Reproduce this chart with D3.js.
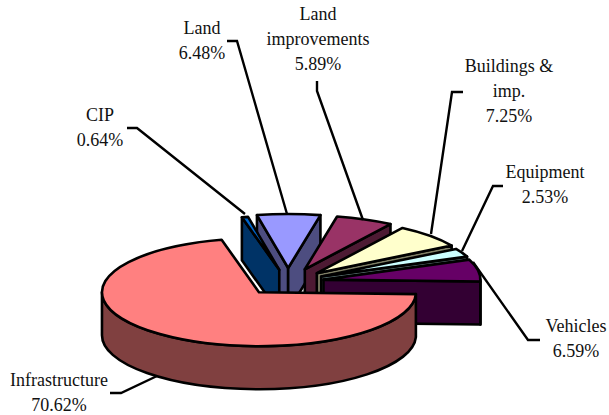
<!DOCTYPE html>
<html>
<head>
<meta charset="utf-8">
<script src="https://cdn.jsdelivr.net/npm/d3@7"></script>
<style>
html, body { margin: 0; padding: 0; background: #fff; }
svg { display: block; }
text { font-family: "Liberation Serif", serif; font-size: 18px; fill: #111; text-anchor: middle; }
</style>
</head>
<body>
<script>
var w = 609;
var h = 415;

// data, clockwise from the right hand edge of the pie
var categories = ["Infrastructure", "CIP", "Land", "Land improvements", "Buildings & imp.", "Equipment", "Vehicles"];
var values = [70.62, 0.64, 6.48, 5.89, 7.25, 2.53, 6.59];

// label wrapping
var labelLines = [["Infrastructure"], ["CIP"], ["Land"], ["Land", "improvements"], ["Buildings &", "imp."], ["Equipment"], ["Vehicles"]];

// styles
var topColors = ["#FF8080", "#0066CC", "#9999FF", "#993366", "#FFFFCC", "#CCFFFF", "#660066"];
var wallColors = ["#804040", "#003366", "#4D4D80", "#4D1A33", "#808066", "#668080", "#330033"];
var explode = [46, 40, 45, 44, 40, 37, 36];

// label layout: centre x, first baseline, then the leader line
var labelX = [59, 100, 202, 318, 509, 545, 576];
var labelY = [386, 121, 34, 20, 72, 178, 332];
var leaders = [
    [[110, 393], [121, 393], [157, 376]],
    [[127, 128], [137, 128], [245, 214]],
    [[227, 41], [237, 41], [287, 214]],
    [[317, 81], [317, 91], [363, 220]],
    [[463, 92], [452, 92], [431, 234]],
    [[503, 186], [493, 186], [462, 251]],
    [[540, 340], [528, 340], [473, 262]]
];

// projection of the tilted pie
var cx = 288;
var cy = 281.5;
var rx = 157;
var ry = 54;
var depth = 43;
var explodeTilt = 0.3;
var lineGap = 25;

var svg = d3.select("body")
    .append("svg")
    .attr("width", w)
    .attr("height", h);

var startAngle = 92 * Math.PI / 180;
var pie = d3.pie()
    .sort(null)
    .startAngle(startAngle)
    .endAngle(startAngle + 2 * Math.PI);

var slices = pie(values).map(function(d) {
    var mid = (d.startAngle + d.endAngle) / 2;
    var e = explode[d.index];
    d.ax = cx + e * Math.sin(mid);
    d.ay = cy - e * Math.cos(mid) * explodeTilt;
    return d;
});

function rim(d, a) {
    return [d.ax + rx * Math.sin(a), d.ay - ry * Math.cos(a)];
}

function arcTo(p, large) {
    return "A" + rx + "," + ry + " 0 " + (large ? 1 : 0) + " 1 " + p[0] + "," + p[1];
}

function topPath(d) {
    var p0 = rim(d, d.startAngle);
    var p1 = rim(d, d.endAngle);
    return "M" + d.ax + "," + d.ay + "L" + p0[0] + "," + p0[1] +
        arcTo(p1, d.endAngle - d.startAngle > Math.PI) + "Z";
}

function radialWall(d, a) {
    var p = rim(d, a);
    return "M" + d.ax + "," + d.ay + "L" + p[0] + "," + p[1] +
        "L" + p[0] + "," + (p[1] + depth) + "L" + d.ax + "," + (d.ay + depth) + "Z";
}

// the outer wall only shows on the near half of the ellipse
function outerWall(d) {
    var paths = [];
    [[Math.PI / 2, 3 * Math.PI / 2], [5 * Math.PI / 2, 7 * Math.PI / 2]].forEach(function(r) {
        var a0 = Math.max(d.startAngle, r[0]);
        var a1 = Math.min(d.endAngle, r[1]);
        if (a1 <= a0) { return; }
        var p0 = rim(d, a0);
        var p1 = rim(d, a1);
        paths.push("M" + p0[0] + "," + p0[1] + arcTo(p1, false) +
            "L" + p1[0] + "," + (p1[1] + depth) +
            "A" + rx + "," + ry + " 0 0 0 " + p0[0] + "," + (p0[1] + depth) + "Z");
    });
    return paths.join("");
}

// far slices first
var order = slices.slice().sort(function(a, b) { return a.ay - b.ay; });

var groups = svg.selectAll("g.slice")
    .data(order)
    .enter()
    .append("g")
    .attr("class", "slice")
    .attr("stroke", "#000")
    .attr("stroke-width", 2.6)
    .attr("stroke-linejoin", "round");

groups.each(function(d) {
    var g = d3.select(this);
    var wall = wallColors[d.index];
    if (Math.sin(d.startAngle) < 0) {
        g.append("path").attr("d", radialWall(d, d.startAngle)).attr("fill", wall);
    }
    if (Math.sin(d.endAngle) > 0) {
        g.append("path").attr("d", radialWall(d, d.endAngle)).attr("fill", wall);
    }
    g.append("path").attr("d", outerWall(d)).attr("fill", wall);
    g.append("path").attr("d", topPath(d)).attr("fill", topColors[d.index]);
});

var line = d3.line();

svg.selectAll("path.leader")
    .data(leaders)
    .enter()
    .append("path")
    .attr("class", "leader")
    .attr("d", line)
    .attr("fill", "none")
    .attr("stroke", "#000")
    .attr("stroke-width", 2.4);

var labels = svg.selectAll("text.label")
    .data(categories)
    .enter()
    .append("text")
    .attr("class", "label")
    .attr("y", function(d, i) { return labelY[i]; });

labels.each(function(d, i) {
    var t = d3.select(this);
    labelLines[i].concat([values[i].toFixed(2) + "%"]).forEach(function(s, j) {
        t.append("tspan")
            .attr("x", labelX[i])
            .attr("y", labelY[i] + j * lineGap)
            .text(s);
    });
});
</script>
</body>
</html>
